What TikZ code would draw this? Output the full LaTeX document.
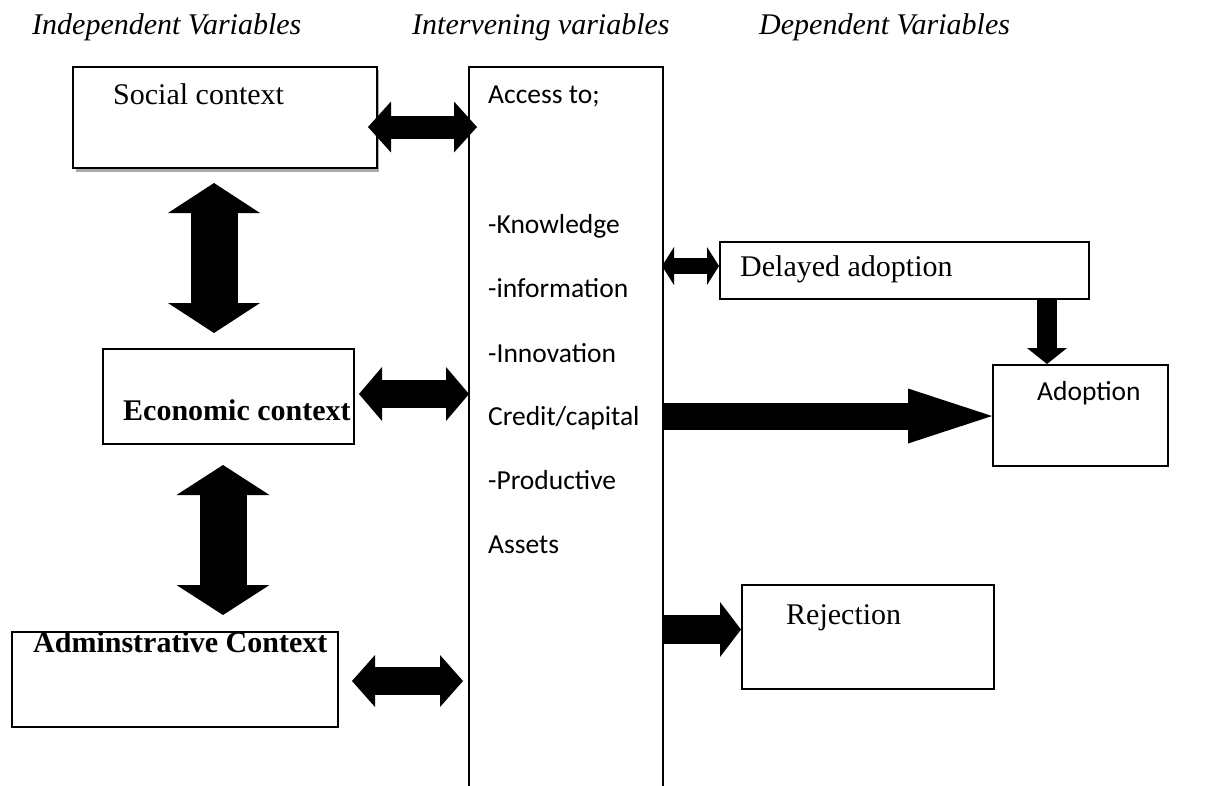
\documentclass[tikz,border=0pt]{standalone}
\usepackage{fontspec}
\setmainfont{Liberation Serif}
\newfontfamily\calibri{Carlito}
\usetikzlibrary{arrows.meta,calc}
\begin{document}
\begin{tikzpicture}[x=1pt,y=-1pt,
  box/.style={draw, line width=1.6pt, fill=white, inner sep=0pt, anchor=north west},
  serif/.style={font=\fontsize{30}{36}\selectfont, inner sep=0pt, anchor=base west},
  serifb/.style={font=\fontsize{30}{36}\selectfont\bfseries, inner sep=0pt, anchor=base west},
  hdr/.style={font=\fontsize{30}{36}\selectfont\itshape, inner sep=0pt, anchor=base west},
  sans/.style={font=\fontsize{27.5}{33}\selectfont\calibri, inner sep=0pt, anchor=base west},
  dbl/.style n args={3}{line width=#1pt, line cap=butt,
    arrows={Triangle[length=#3pt,width=#2pt,line width=0pt]-Triangle[length=#3pt,width=#2pt,line width=0pt]}},
  sgl/.style n args={3}{line width=#1pt, line cap=butt,
    arrows={-Triangle[length=#3pt,width=#2pt,line width=0pt]}}
]
\useasboundingbox (0,0) rectangle (1214,785);
\clip (0,0) rectangle (1214,785);

% headers
\node[hdr] (h1) at (32,34) {Independent Variables};
\node[hdr] (h2) at (412,34) {Intervening variables};
\node[hdr] (h3) at (759,34) {Dependent Variables};

% social box with shadow
\fill[gray!65] (76,70) rectangle (379,171.5);
\node[box, line width=2.4pt, minimum width=304, minimum height=101] (social) at (72,66) {};
\node[serif] (socialtxt) at (113,104) {Social context};

% economic box
\node[box, minimum width=251, minimum height=95] (econ) at (102,348) {};
\node[serifb] (econtxt) at (123,420) {Economic context};

% administrative box
\node[box, minimum width=326, minimum height=95] (admin) at (11,631) {};
\node[serifb] (admintxt) at (33,652) {Adminstrative Context};

% intervening box (runs past the bottom edge)
\node[box, minimum width=194, minimum height=760] (inter) at (468,66) {};
\node[sans] (t1) at (488,103) {Access to;};
\node[sans] (t2) at (488,233) {-Knowledge};
\node[sans] (t3) at (488,297) {-information};
\node[sans] (t4) at (488,362) {-Innovation};
\node[sans] (t5) at (488,425) {Credit/capital};
\node[sans] (t6) at (488,489) {-Productive};
\node[sans] (t7) at (488,553) {Assets};

% dependent boxes
\node[box, minimum width=369, minimum height=57] (delayed) at (719,241) {};
\node[serif] (delayedtxt) at (740,276) {Delayed adoption};
\node[box, minimum width=175, minimum height=101] (adopt) at (992,364) {};
\node[sans] (adopttxt) at (1037,400) {Adoption};
\node[box, minimum width=252, minimum height=104] (reject) at (741,584) {};
\node[serif] (rejecttxt) at (786,624) {Rejection};

% connector end points
\coordinate (s1) at (368,127);
\coordinate (s2) at (477,127);
\coordinate (e1) at (359,394);
\coordinate (e2) at (469,394);
\coordinate (a1) at (352,681);
\coordinate (a2) at (463,681);
\coordinate (v1a) at (214,183);
\coordinate (v1b) at (214,333);
\coordinate (v2a) at (223,465);
\coordinate (v2b) at (223,615);
\coordinate (d1) at (662,266);
\coordinate (r0) at (662,629.5);
\coordinate (b0) at (662,416);

% connectors
\draw[dbl={23}{51}{23}] (s1) -- (s2);
\draw[dbl={28}{54}{23}] (e1) -- (e2);
\draw[dbl={28}{52}{23}] (a1) -- (a2);
\draw[dbl={47}{92}{30}] (v1a) -- (v1b);
\draw[dbl={47}{93}{30}] (v2a) -- (v2b);
\draw[dbl={16}{38}{12}] (d1) -- (delayed.west |- d1);
\draw[sgl={20}{40}{16}] (delayed.south -| 1047,0) -- (adopt.north -| 1047,0);
\draw[sgl={27}{55}{84}] (b0) -- (adopt.west |- b0);
\draw[sgl={29}{55}{21}] (r0) -- (reject.west |- r0);
\end{tikzpicture}
\end{document}
